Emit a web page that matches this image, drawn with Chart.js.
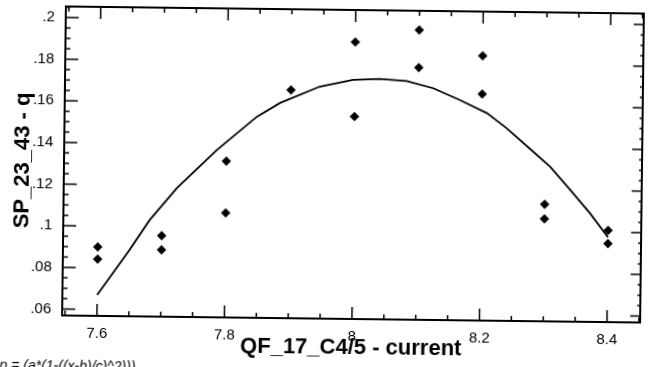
<!DOCTYPE html>
<html>
<head>
<meta charset="utf-8">
<script src="https://cdn.jsdelivr.net/npm/chart.js@4.4.1/dist/chart.umd.min.js"></script>
<style>
  html, body { margin: 0; padding: 0; background: #fff; overflow: hidden; }
  /* the scanned original sits a little crooked, so the whole sheet is tilted */
  #sheet { position: relative; width: 655px; height: 367px; transform: rotate(0.7deg); transform-origin: 353px 164px; }
  #fitnote { position: absolute; left: 2px; top: 361px; font: italic 14px "Liberation Sans", Arial, sans-serif; color: #000; white-space: nowrap; }
</style>
</head>
<body>
<div id="sheet">
  <canvas id="chart"></canvas>
  <div id="fitnote">p = (a*(1-((x-b)/c)^2)))</div>
</div>
<script>
// --- data ---
const xTickVals = [7.6, 7.8, 8.0, 8.2, 8.4];
const xTickLabels = ['7.6', '7.8', '8', '8.2', '8.4'];
const yTickVals = [0.06, 0.08, 0.10, 0.12, 0.14, 0.16, 0.18, 0.20];
const yTickLabels = ['.06', '.08', '.1', '.12', '.14', '.16', '.18', '.2'];

// measured points
const measX = [7.6, 7.6, 7.7, 7.7, 7.8, 7.8, 7.9, 8.0, 8.0, 8.1, 8.1, 8.2, 8.2, 8.3, 8.3, 8.4, 8.4];
const measY = [0.0900, 0.0842, 0.0958, 0.0890, 0.1320, 0.1071, 0.1665, 0.1899, 0.1541,
               0.1961, 0.1780, 0.1840, 0.1657, 0.1131, 0.1061, 0.1010, 0.0946];

// fitted curve, traced
const fitX = [7.600, 7.650, 7.681, 7.723, 7.785, 7.847, 7.883, 7.945, 7.997, 8.039,
              8.081, 8.123, 8.165, 8.208, 8.239, 8.276, 8.308, 8.340, 8.371, 8.400];
const fitY = [0.0670, 0.0888, 0.1033, 0.1188, 0.1373, 0.1535, 0.1602, 0.1683, 0.1717, 0.1723,
              0.1715, 0.1682, 0.1627, 0.1565, 0.1494, 0.1396, 0.1312, 0.1201, 0.1092, 0.0976];

const FONT = '"Liberation Sans", Arial, Helvetica, sans-serif';

// minor ticks between the labelled ones
function minorTicks(major, parts, lo, hi) {
    const step = (major[1] - major[0]) / parts;
    const out = [];
    for (let i = -parts; i <= (major.length - 1) * parts + parts; i++) {
        if (i % parts === 0) continue;
        const v = major[0] + i * step;
        if (v > lo && v < hi) out.push(v);
    }
    return out;
}

const xMin = 7.5454, xMax = 8.4519;
const yMin = 0.0569, yMax = 0.2053;
const xMinor = minorTicks(xTickVals, 4, xMin, xMax);
const yMinor = minorTicks(yTickVals, 4, yMin, yMax);

// frame plus inward ticks on all four sides
const frameTicks = {
    id: 'frameTicks',
    beforeDatasetsDraw(chart) {
        const { ctx, chartArea: a, scales: { x, y } } = chart;
        ctx.save();
        ctx.strokeStyle = '#000';
        ctx.lineWidth = 1.5;
        const seg = (x0, y0, x1, y1) => { ctx.beginPath(); ctx.moveTo(x0, y0); ctx.lineTo(x1, y1); ctx.stroke(); };
        xTickVals.forEach(v => { const p = x.getPixelForValue(v); seg(p, a.bottom, p, a.bottom - 12); seg(p, a.top, p, a.top + 12); });
        xMinor.forEach(v => { const p = x.getPixelForValue(v); seg(p, a.bottom, p, a.bottom - 5); seg(p, a.top, p, a.top + 5); });
        yTickVals.forEach(v => { const p = y.getPixelForValue(v); seg(a.left, p, a.left + 13, p); seg(a.right, p, a.right - 10, p); });
        yMinor.forEach(v => { const p = y.getPixelForValue(v); seg(a.left, p, a.left + 5, p); seg(a.right, p, a.right - 3, p); });
        ctx.lineWidth = 2;
        ctx.strokeRect(a.left, a.top, a.right - a.left, a.bottom - a.top);
        ctx.restore();
    }
};

const ctx = document.getElementById('chart').getContext('2d');
new Chart(ctx, {
    type: 'scatter',
    data: {
        datasets: [{
            label: 'fit',
            data: fitX.map((v, i) => ({ x: v, y: fitY[i] })),
            showLine: true,
            borderColor: '#000',
            borderWidth: 1.8,
            pointRadius: 0,
            tension: 0
        }, {
            label: 'measured',
            data: measX.map((v, i) => ({ x: v, y: measY[i] })),
            pointStyle: 'rectRot',
            pointRadius: 4.5,
            backgroundColor: '#000',
            borderColor: '#000',
            borderWidth: 0.5
        }]
    },
    options: {
        responsive: true,
        maintainAspectRatio: false,
        animation: false,
        devicePixelRatio: 1,
        layout: { padding: { left: 0, right: 13, top: 10, bottom: 0 } },
        plugins: { legend: { display: false }, tooltip: { enabled: false } },
        scales: {
            x: {
                type: 'linear',
                min: xMin,
                max: xMax,
                grid: { display: false },
                border: { display: false },
                ticks: {
                    color: '#000',
                    font: { family: FONT, size: 15 },
                    padding: 1,
                    maxRotation: 0,
                    minRotation: 0,
                    autoSkip: false,
                    callback: (v) => { const i = xTickVals.findIndex(t => Math.abs(t - v) < 1e-6); return i >= 0 ? xTickLabels[i] : ''; }
                },
                title: {
                    display: true,
                    text: 'QF_17_C4/5 - current',
                    color: '#000',
                    font: { family: FONT, size: 22, weight: 'bold' },
                    padding: { top: 0, bottom: 6 }
                },
                afterBuildTicks: (s) => { s.ticks = xTickVals.map(v => ({ value: v })); },
                afterFit: (s) => { s.height = 48; s.paddingLeft = 0; s.paddingRight = 0; }
            },
            y: {
                type: 'linear',
                min: yMin,
                max: yMax,
                grid: { display: false },
                border: { display: false },
                ticks: {
                    color: '#000',
                    font: { family: FONT, size: 15 },
                    padding: 3,
                    autoSkip: false,
                    callback: (v) => { const i = yTickVals.findIndex(t => Math.abs(t - v) < 1e-6); return i >= 0 ? yTickLabels[i] : ''; }
                },
                title: {
                    display: true,
                    text: 'SP_23_43 - q',
                    color: '#000',
                    font: { family: FONT, size: 22, weight: 'bold' },
                    padding: { top: 10, bottom: 0 }
                },
                afterBuildTicks: (s) => { s.ticks = yTickVals.map(v => ({ value: v })); },
                afterFit: (s) => { s.width = 64; s.paddingTop = 0; s.paddingBottom = 0; }
            }
        }
    },
    plugins: [frameTicks]
});
</script>
</body>
</html>
